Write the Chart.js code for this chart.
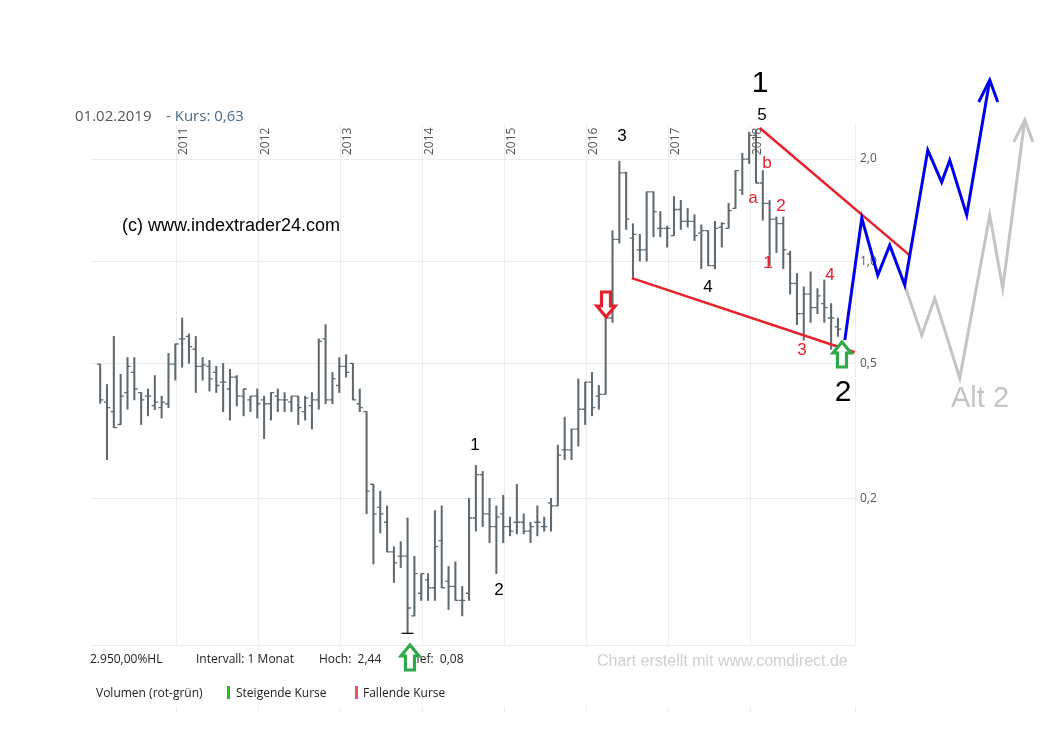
<!DOCTYPE html>
<html><head><meta charset="utf-8">
<script src="https://cdn.jsdelivr.net/npm/chart.js@4.4.1/dist/chart.umd.min.js"></script>
<style>html,body{margin:0;padding:0;background:#fff}#w{width:1044px;height:752px;position:relative}</style>
</head><body><div id="w"><canvas id="c"></canvas></div>
<script>
const startYear = 2010;
const opens  = [.497,.384,.36,.33,.41,.47,.41,.4,.375,.37,.38,.497,.59,.6,.55,.49,.49,.47,.44,.42,.455,.4,.39,.4,.39,.38,.4,.39,.385,.4,.36,.375,.39,.59,.39,.43,.49,.5,.38,.36,.22,.188,.17,.139,.135,.135,.09,.105,.115,.109,.15,.114,.11,.1,.105,.175,.235,.18,.165,.18,.165,.17,.17,.16,.17,.165,.194,.19,.278,.278,.32,.366,.44,.4,.405,.68,1.16,1.82,1.17,1.08,1.08,1.6,1.25,1.25,1.19,1.42,1.31,1.31,1.21,1.23,.97,1.26,1.25,1.43,1.62,2.0,2.35,1.7,1.48,1.33,1.29,1.05,.86,.7,.8,.73,.75,.68,.64];
const highs  = [.497,.433,.6,.464,.52,.52,.41,.42,.46,.4,.535,.57,.68,.61,.6,.52,.51,.49,.5,.48,.46,.42,.4,.42,.4,.41,.42,.41,.4,.4,.4,.41,.59,.65,.47,.52,.53,.5,.42,.36,.22,.21,.19,.144,.149,.175,.135,.12,.12,.184,.19,.126,.13,.11,.2,.25,.24,.2,.19,.204,.176,.22,.18,.17,.19,.176,.2,.287,.347,.32,.45,.44,.47,.43,.68,1.23,1.97,1.83,1.29,1.2,1.6,1.6,1.4,1.27,1.55,1.51,1.43,1.37,1.28,1.23,1.31,1.3,1.48,1.85,2.08,2.4,2.44,1.85,1.51,1.35,1.35,1.07,.92,.84,.93,.83,.88,.75,.68];
const lows   = [.381,.26,.323,.33,.366,.39,.33,.35,.365,.345,.37,.446,.487,.5,.41,.446,.414,.41,.36,.34,.374,.35,.36,.345,.3,.34,.36,.36,.36,.33,.34,.32,.366,.38,.38,.41,.455,.39,.36,.18,.128,.158,.139,.113,.125,.08,.09,.1,.1,.1,.109,.094,.1,.09,.1,.16,.165,.148,.12,.148,.155,.157,.157,.148,.155,.16,.16,.19,.26,.26,.285,.33,.35,.366,.405,.66,1.13,1.24,.89,1.0,1.0,1.18,1.18,1.1,1.19,1.24,1.26,1.15,.95,.97,.95,1.1,1.25,1.43,1.57,1.94,1.7,1.32,.97,1.06,.95,.8,.65,.585,.66,.7,.66,.55,.6];
const closes = [.39,.37,.323,.4,.49,.42,.39,.4,.384,.384,.497,.57,.59,.56,.49,.495,.45,.43,.44,.455,.4,.42,.4,.38,.38,.41,.39,.39,.4,.37,.395,.39,.58,.39,.45,.49,.47,.39,.37,.21,.18,.18,.139,.129,.135,.095,.12,.12,.109,.144,.109,.11,.1,.1,.175,.235,.18,.165,.176,.165,.16,.17,.16,.165,.17,.165,.19,.268,.278,.32,.366,.44,.37,.405,.68,1.16,1.82,1.33,1.2,1.08,1.6,1.4,1.25,1.25,1.42,1.31,1.31,1.19,1.23,.97,1.25,1.29,1.41,1.85,2.0,2.35,1.7,1.48,1.33,1.29,1.08,.86,.7,.8,.73,.79,.73,.68,.63];
const yearTicks = [2011,2012,2013,2014,2015,2016,2017,2018];
const priceTicks = [2.0,1.0,0.5,0.2];
const priceTickLabels = ["2,0","1,0","0,5","0,2"];
const upperTrendX = [2018.122, 2019.951], upperTrendY = [2.468, 1.04];
const lowerTrendX = [2016.561, 2019.280], lowerTrendY = [0.891, 0.539];
const bluePathX = [2019.159,2019.366,2019.561,2019.707,2019.890,2020.171,2020.341,2020.439,2020.646,2020.927];
const bluePathY = [0.585,1.339,0.909,1.115,0.85,2.125,1.71,1.985,1.367,3.42];
const greyPathX = [2019.890,2020.098,2020.256,2020.561,2020.927,2021.085,2021.354];
const greyPathY = [0.85,0.605,0.778,0.452,1.367,0.832,2.606];

const times = opens.map((_, i) => startYear + (i + 0.9) / 12);
const xyPts = (xs, ys) => xs.map((x, i) => ({x, y: ys[i]}));
const XMIN = 2009.951, XMAX = 2021.54;
const YMIN = 0.0739, YMAX = 3.917;

const overlay = {
  id: 'overlay',
  beforeDatasetsDraw(ch) {
    const c = ch.ctx, xs = ch.scales.x, ys = ch.scales.y;
    const L = xs.getPixelForValue(XMIN), R = xs.getPixelForValue(2019.28);
    c.save();
    c.strokeStyle = '#ececec'; c.lineWidth = 1;
    priceTicks.forEach(v => { const y = Math.round(ys.getPixelForValue(v)) + .5; c.beginPath(); c.moveTo(L, y); c.lineTo(R, y); c.stroke(); });
    c.beginPath(); c.moveTo(L, 645.5); c.lineTo(R, 645.5); c.stroke();
    yearTicks.concat([2019.28]).forEach(t => { const x = Math.round(xs.getPixelForValue(t)) + .5; c.beginPath(); c.moveTo(x, 125); c.lineTo(x, 645); c.stroke();
      c.beginPath(); c.moveTo(x, 706); c.lineTo(x, 712); c.stroke(); });
    c.fillStyle = '#555'; c.font = '12px "Open Sans"'; c.textBaseline = 'middle';
    yearTicks.forEach(t => { const x = xs.getPixelForValue(t) + 8; c.save(); c.translate(x, 155); c.rotate(-Math.PI / 2); c.textAlign = 'left'; c.fillText(String(t), 0, 0); c.restore(); });
    c.textAlign = 'left';
    priceTicks.forEach((v, i) => c.fillText(priceTickLabels[i], 860, ys.getPixelForValue(v)));
    c.restore();
  },
  afterDatasetsDraw(ch) {
    const c = ch.ctx, xs = ch.scales.x, ys = ch.scales.y;
    c.save();
    c.strokeStyle = '#5f6a70'; c.lineWidth = 1.3;
    times.forEach((t, i) => {
      const x = xs.getPixelForValue(t);
      const yo = ys.getPixelForValue(opens[i]), yc = ys.getPixelForValue(closes[i]);
      c.beginPath(); c.moveTo(x - 3.2, yo); c.lineTo(x, yo); c.moveTo(x, yc); c.lineTo(x + 3.2, yc); c.stroke();
    });
    let mi = lows.indexOf(Math.min(...lows));
    const lx = xs.getPixelForValue(times[mi]), ly = ys.getPixelForValue(lows[mi]);
    c.strokeStyle = '#000'; c.lineWidth = 1.2; c.beginPath(); c.moveTo(lx - 6, ly); c.lineTo(lx + 6, ly); c.stroke();
    c.lineWidth = 3; c.lineJoin = 'miter';
    const head = (x, y, col) => { c.strokeStyle = col; c.beginPath(); c.moveTo(x - 11, y + 22); c.lineTo(x, y); c.lineTo(x + 8, y + 22); c.stroke(); };
    head(xs.getPixelForValue(bluePathX[bluePathX.length - 1]), ys.getPixelForValue(bluePathY[bluePathY.length - 1]), '#0000ee');
    head(xs.getPixelForValue(greyPathX[greyPathX.length - 1]), ys.getPixelForValue(greyPathY[greyPathY.length - 1]), '#c4c4c4');
    const arrow = (x, tipY, dir, col) => {
      c.strokeStyle = col; c.fillStyle = '#fff'; c.lineWidth = 3.2;
      const s = dir;
      c.beginPath();
      c.moveTo(x, tipY);
      c.lineTo(x - 9, tipY - s * 11); c.lineTo(x - 4.5, tipY - s * 11);
      c.lineTo(x - 4.5, tipY - s * 25); c.lineTo(x + 4.5, tipY - s * 25);
      c.lineTo(x + 4.5, tipY - s * 11); c.lineTo(x + 9, tipY - s * 11); c.closePath();
      c.fill(); c.stroke();
    };
    arrow(606, 317, 1, '#e8202a');
    arrow(842, 342, -1, '#2ea84a');
    const T = (s, x, y, col, size, font) => { c.fillStyle = col; c.font = size + 'px ' + (font || '"Liberation Sans", Arial'); c.textAlign = 'center'; c.textBaseline = 'middle'; c.fillText(s, x, y); };
    T('1', 760, 84, '#000', 30); T('5', 762, 115, '#000', 17); T('3', 622, 136, '#000', 17);
    T('b', 767, 163, '#e8202a', 17); T('a', 753, 198, '#e8202a', 17); T('2', 781, 206, '#e8202a', 17);
    T('1', 768, 263, '#e8202a', 17); T('4', 708, 287, '#000', 17); T('4', 830, 275, '#e8202a', 17);
    T('3', 802, 350, '#e8202a', 17); T('2', 843, 393, '#000', 30);
    T('1', 475, 445, '#000', 17); T('2', 499, 590, '#000', 17);
    T('Alt 2', 980, 399, '#c4c4c4', 29);
    c.textAlign = 'left'; c.textBaseline = 'alphabetic';
    c.font = '18px "Liberation Sans", Arial'; c.fillStyle = '#000'; c.fillText('(c) www.indextrader24.com', 122, 231);
    c.font = '15px "Open Sans"'; c.fillStyle = '#555'; c.fillText('01.02.2019', 75, 121);
    c.fillStyle = '#4a6a85'; c.fillText('- Kurs: 0,63', 166, 121);
    c.font = '12px "Open Sans"'; c.fillStyle = '#222';
    c.fillText('2.950,00%HL', 90, 663); c.fillText('Intervall: 1 Monat', 196, 663);
    c.fillText('Hoch:  2,44', 319, 663); c.fillText('Tief:  0,08', 410, 663);
    c.font = '16px "Liberation Sans Narrow", "Liberation Sans", Arial'; c.fillStyle = '#cfcfcf';
    c.fillText('Chart erstellt mit www.comdirect.de', 597, 666);
    c.font = '12px "Open Sans"'; c.fillStyle = '#222';
    c.fillText('Volumen (rot-grün)', 96, 697); c.fillText('Steigende Kurse', 236, 697); c.fillText('Fallende Kurse', 363, 697);
    c.fillStyle = '#22bb22'; c.fillRect(227, 686, 3, 13);
    c.fillStyle = '#f05060'; c.fillRect(355, 686, 3, 13);
    arrow(410, 645, -1, '#2ea84a');
    c.restore();
  }
};

new Chart(document.getElementById('c'), {
  data: {
    datasets: [
      { type: 'bar', data: times.map((t, i) => ({x: t, y: [lows[i], highs[i]]})), backgroundColor: '#5f6a70', barThickness: 1.4, order: 5 },
      { type: 'line', data: xyPts(upperTrendX, upperTrendY), borderColor: '#e8202a', borderWidth: 2.5, pointRadius: 0, order: 2 },
      { type: 'line', data: xyPts(lowerTrendX, lowerTrendY), borderColor: '#e8202a', borderWidth: 2.5, pointRadius: 0, order: 2 },
      { type: 'line', data: xyPts(bluePathX, bluePathY), borderColor: '#0000ee', borderWidth: 3, pointRadius: 0, order: 1 },
      { type: 'line', data: xyPts(greyPathX, greyPathY), borderColor: '#c4c4c4', borderWidth: 3, pointRadius: 0, order: 3 }
    ]
  },
  options: {
    responsive: true, maintainAspectRatio: false, animation: false,
    layout: { padding: { left: 90, right: 4, top: 60, bottom: 107 } },
    plugins: { legend: { display: false }, tooltip: { enabled: false } },
    clip: false,
    scales: {
      x: { type: 'linear', min: XMIN, max: XMAX, display: false, offset: false },
      y: { type: 'logarithmic', min: YMIN, max: YMAX, display: false }
    }
  },
  plugins: [overlay]
});
</script></body></html>
